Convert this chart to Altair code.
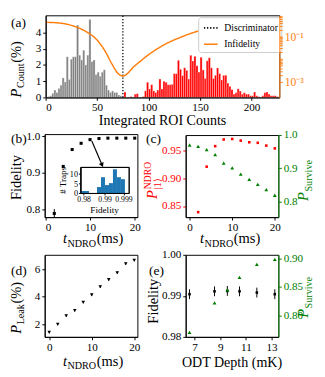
import altair as alt
import pandas as pd

FONT = "Liberation Serif"
W, H = 317, 369
RED, GREEN, ORANGE, GRAY, BLUE = "#ff0000", "#008000", "#ff7f0e", "#808080", "#1f77b4"

# ---------------- data ----------------
BIN_W = 2
gray_edges = list(range(0, 76, 2))
gray_pct = [0, 0.05, 0.1, 0.25, 0.45, 0.3, 0.55, 0.75, 1.2, 0.95, 2.5, 1.1, 2.35, 2.5, 2.5,
            4.45, 2.6, 2.3, 2.9, 2.0, 2.6, 4.8, 2.2, 2.3, 1.4, 1.55, 1.3, 1.55, 1.7, 0.75,
            0.45, 0.3, 0.4, 0.3, 0.3, 0.15, 0.1, 0.05]
red_edges = list(range(76, 226, 2))
red_pct = [0.33, 0, 0, 0.05, 0, 0.2, 0.23, 0, 0, 0.05, 0.4, 0.93, 0.52, 0.78, 0.4, 0.3, 0.45,
           1.13, 0.52, 0.99, 0.93, 0.78, 0.78, 0.8, 1.46, 1.46, 2.28, 1.73, 1.34, 1.82, 1.66,
           1.13, 2.59, 2.24, 2.53, 1.95, 1.56, 2.47, 1.69, 1.16, 2.25, 2.44, 1.82, 1.16, 1.36,
           1.81, 1.46, 1.07, 1.36, 1.36, 0.88, 0.68, 0.48, 0.2, 0.29, 0.53, 0.39, 0.2, 0.29,
           0.2, 0.2, 0.1, 0.1, 0.33, 0.1, 0.05, 0, 0.1, 0.29, 0.33, 0.2, 0.1, 0.1, 0.1, 0.05]
discriminator = [75]
infid_counts = [0, 15, 28, 40, 49, 58, 64.5, 70.5, 75, 86.5, 102, 117, 133, 148, 170, 195, 226]
infid_vals = [0.427, 0.389, 0.282, 0.158, 0.0776, 0.0214, 0.0059, 0.00224, 0.00178, 0.0050,
              0.0182, 0.0479, 0.100, 0.174, 0.28, 0.38, 0.50]

b_t = [2, 4, 6, 8, 10, 12, 14, 16, 18, 20]
b_fid = [0.79, 0.918, 0.964, 0.981, 0.991, 0.994, 0.995, 0.995, 0.995, 0.995]
b_err = [0.012, 0.003, 0.002, 0.002, 0.001, 0.001, 0.001, 0.001, 0.001, 0.001]

inset_edges = [0.97877, 0.98067, 0.98257, 0.98447, 0.98637, 0.98827, 0.99017, 0.99207,
               0.99397, 0.99587, 0.99777]
inset_traps = [1, 1, 0, 0, 3, 8, 4, 5, 12, 8, 7]
INSET_W = 0.0019

c_t_red = [2, 4, 6, 8, 10, 12, 14, 16, 18, 20]
c_pndro = [0.839, 0.921, 0.958, 0.970, 0.971, 0.968, 0.965, 0.964, 0.959, 0.954]
c_t_green = [0, 2, 4, 6, 8, 10, 12, 14, 16, 18, 20]
c_psurv = [0.970, 0.966, 0.956, 0.941, 0.915, 0.901, 0.882, 0.866, 0.851, 0.835, 0.818]

d_t = [0, 2, 4, 6, 8, 10, 12, 14, 16, 18, 20]
d_leak = [1.42, 2.0, 2.62, 3.0, 3.6, 4.14, 4.73, 5.25, 5.75, 6.41, 6.66]
d_err = [0.08] * 11

e_depth = [6.6, 8.55, 9.55, 10.5, 11.85, 13.25]
e_fid = [0.9904, 0.9911, 0.9912, 0.9911, 0.9908, 0.9904]
e_ferr = [0.0012, 0.0012, 0.0012, 0.0012, 0.0012, 0.0012]
e_psurv = [0.770, 0.822, 0.845, 0.867, 0.890, 0.899]


# ---------------- layout helpers ----------------
def RX(x):
    return round((x - 3) * 0.985)


def RY(y):
    return round((y - 1) * 0.98)


BOX_A = (RX(39.3), RX(285.5), RY(1.7), RY(88.3))
BOX_B = (RX(38.5), RX(136), RY(128), RY(215))
BOX_BI = (RX(76.5), RX(126.7), RY(162.7), RY(190))
BOX_C = (RX(186.5), RX(284.5), RY(128.5), RY(215))
BOX_D = (RX(38.5), RX(136), RY(255), RY(341.7))
BOX_E = (RX(186.5), RX(284.5), RY(255), RY(341.7))


def sx(dom, box, **kw):
    return alt.Scale(domain=dom, range=[box[0], box[1]], nice=False, zero=False, **kw)


def sy(dom, box, **kw):
    return alt.Scale(domain=dom, range=[box[3], box[2]], nice=False, zero=False, **kw)


def ax(orient, box, values, fmt=None, size=11.5, color="black", **kw):
    off = {"bottom": box[3] - H, "left": -box[0], "right": box[1] - W}[orient]
    a = dict(orient=orient, offset=off, values=values, title=None, labelFontSize=size,
             labelColor=color, tickColor=color, domainColor=color, zindex=1)
    if fmt:
        a["format"] = fmt
    a.update(kw)
    return alt.Axis(**a)


one = pd.DataFrame({"k": [0]})


def frame(box, fill=None, color="black"):
    kw = dict(stroke=color, strokeWidth=1)
    if fill:
        kw["fill"] = fill
    else:
        kw["fillOpacity"] = 0
    return alt.Chart(one).mark_rect(**kw).encode(
        x=alt.value(box[0] + 0.5), x2=alt.value(box[1] + 0.5),
        y=alt.value(box[2] + 0.5), y2=alt.value(box[3] + 0.5))


def txt(s, x, y, size=15, color="black", angle=0, italic=False, dx=0, dy=0, align="left"):
    kw = dict(text=s, font=FONT, fontSize=size, color=color, angle=angle, align=align,
              baseline="alphabetic", dx=dx, dy=dy)
    if italic:
        kw["fontStyle"] = "italic"
    return alt.Chart(one).mark_text(**kw).encode(x=alt.value(x), y=alt.value(y))


WID = {' ': 250, '(': 333, ')': 333, '%': 833, '#': 500, 'C': 667, 'D': 722, 'L': 611,
       'N': 722, 'O': 722, 'P': 611, 'R': 667, 'S': 556, 'T': 611, 'K': 722, 'a': 444,
       'e': 444, 'i': 278, 'k': 500, 'm': 778, 'n': 500, 'o': 500, 'p': 500, 'r': 333,
       's': 389, 't': 278, 'u': 500, 'v': 500, 'h': 500, '|': 200, '1': 500, '⟩': 333}


def tw(s, size):
    return sum(WID.get(c, 500) for c in s) * size / 1000.0


def comp(parts, x, y, angle=0, color="black"):
    # parts: (text, size, italic, dy)
    total = sum(tw(p[0], p[1]) for p in parts) + 0.5 * (len(parts) - 1)
    pos = -total / 2
    out = []
    for (s, size, it, dy) in parts:
        out.append(txt(s, x, y, size, color, angle, it, dx=pos, dy=dy))
        pos += tw(s, size) + 0.5
    return out


def tndro(cx, by):
    return comp([("t", 15, True, 0), ("NDRO", 10.5, False, 3.5), (" (ms)", 15, False, 0)],
                RX(cx), RY(by))


# ---------------- panel (a) ----------------
xA = sx([0, 227], BOX_A)
yA = sy([0, 5.05], BOX_A)
xA2 = sx([0, 227], BOX_A)
yAlog = sy([10 ** -3.7, 10 ** -0.06], BOX_A, type="log")

df_gray = pd.DataFrame({"lo": gray_edges, "hi": [e + BIN_W for e in gray_edges], "v": gray_pct})
df_red = pd.DataFrame({"lo": red_edges, "hi": [e + BIN_W for e in red_edges], "v": red_pct})
df_disc = pd.DataFrame({"c": discriminator, "y0": [0], "y1": [5.05], "series": ["Discriminator"]})
df_inf = pd.DataFrame({"c": infid_counts, "f": infid_vals, "series": ["Infidelity"] * len(infid_counts)})

series_dom = ["Discriminator", "Infidelity"]
colS = alt.Scale(domain=series_dom, range=["black", ORANGE])
dashS = alt.Scale(domain=series_dom, range=[[1.3, 1.9], [1, 0]])
leg = alt.Legend(orient="none", legendX=RX(200), legendY=RY(4), title=None, symbolType="stroke",
                 symbolSize=200, symbolStrokeWidth=1.6, labelFont=FONT, labelFontSize=10,
                 fillColor="white", strokeColor="#cccccc", padding=3, cornerRadius=3,
                 rowPadding=4, labelOffset=6, symbolOffset=2)

gray_bars = alt.Chart(df_gray).mark_rect(color=GRAY, stroke="white", strokeWidth=0.3).encode(
    x=alt.X("lo:Q", scale=xA, axis=ax("bottom", BOX_A, list(range(0, 201, 25)), "d")),
    x2="hi:Q",
    y=alt.Y("v:Q", scale=yA, axis=ax("left", BOX_A, [0, 1, 2, 3, 4], "d")),
    y2=alt.datum(0))
red_bars = alt.Chart(df_red).mark_rect(color=RED, stroke="white", strokeWidth=0.3).encode(
    x=alt.X("lo:Q", scale=xA), x2="hi:Q", y=alt.Y("v:Q", scale=yA), y2=alt.datum(0))
disc = alt.Chart(df_disc).mark_rule(strokeWidth=1.3).encode(
    x=alt.X("c:Q", scale=xA), y=alt.Y("y0:Q", scale=yA), y2="y1:Q",
    color=alt.Color("series:N", scale=colS, legend=leg),
    strokeDash=alt.StrokeDash("series:N", scale=dashS, legend=leg))
A_left = alt.layer(frame(BOX_A), gray_bars, red_bars, disc)

inf_line = alt.Chart(df_inf).mark_line(strokeWidth=1.5, interpolate="monotone").encode(
    x=alt.X("c:Q", scale=xA2, axis=None),
    y=alt.Y("f:Q", scale=yAlog, axis=ax(
        "right", BOX_A, [0.001, 0.002, 0.003, 0.004, 0.005, 0.006, 0.007, 0.008, 0.009, 0.01,
                         0.02, 0.03, 0.04, 0.05, 0.06, 0.07, 0.08, 0.09, 0.1, 0.2, 0.3, 0.4,
                         0.5, 0.6, 0.7, 0.8],
        color=ORANGE, size=12,
        labelExpr="datum.value == 0.1 ? '10⁻¹' : (datum.value == 0.001 ? '10⁻³' : '')")),
    color=alt.Color("series:N", scale=colS, legend=leg),
    strokeDash=alt.StrokeDash("series:N", scale=dashS, legend=leg))
A_right = alt.layer(inf_line)

# ---------------- panel (b) ----------------
xB = sx([-0.15, 20.6], BOX_B)
yB = sy([0.78, 1.006], BOX_B)
df_b = pd.DataFrame({"t": b_t, "f": b_fid, "lo": [f - e for f, e in zip(b_fid, b_err)],
                     "hi": [f + e for f, e in zip(b_fid, b_err)]})
b_pts = alt.Chart(df_b).mark_square(size=10, color="black", opacity=1).encode(
    x=alt.X("t:Q", scale=xB, axis=ax("bottom", BOX_B, [0, 10, 20], "d")),
    y=alt.Y("f:Q", scale=yB, axis=ax("left", BOX_B, [0.8, 0.9, 1.0], ".1f")))
b_err_r = alt.Chart(df_b).mark_rule(color="black", strokeWidth=1).encode(
    x=alt.X("t:Q", scale=xB), y=alt.Y("lo:Q", scale=yB), y2="hi:Q")
df_arrow = pd.DataFrame({"x": [10.4], "y": [0.987], "x2": [12.7], "y2": [0.922]})
arrow_line = alt.Chart(df_arrow).mark_rule(color="black", strokeWidth=1.2).encode(
    x=alt.X("x:Q", scale=xB), y=alt.Y("y:Q", scale=yB), x2="x2:Q", y2="y2:Q")
arrow_head = alt.Chart(df_arrow).mark_point(shape="triangle-down", filled=True, size=28,
                                            color="black", opacity=1, angle=336).encode(
    x=alt.X("x2:Q", scale=xB), y=alt.Y("y2:Q", scale=yB))
B_main = alt.layer(frame(BOX_B), b_err_r, b_pts, arrow_line, arrow_head)

xI = sx([0.97848, 1.00147], BOX_BI)
yI = sy([0, 13.2], BOX_BI)
df_in = pd.DataFrame({"lo": inset_edges, "hi": [e + INSET_W for e in inset_edges], "n": inset_traps})
in_bars = alt.Chart(df_in).mark_rect(color=BLUE).encode(
    x=alt.X("lo:Q", scale=xI, axis=ax("bottom", BOX_BI, [0.98, 0.99, 0.999], size=8,
                                      tickSize=2, labelPadding=1,
                                      labelExpr="datum.value == 0.999 ? '0.999' : format(datum.value, '.2f')")),
    x2="hi:Q",
    y=alt.Y("n:Q", scale=yI, axis=ax("left", BOX_BI, [0, 5, 10], "d", size=8.5, tickSize=2,
                                     labelPadding=1)),
    y2=alt.datum(0))
B_inset = alt.layer(frame(BOX_BI, fill="white"), in_bars, frame(BOX_BI))

# ---------------- panel (c) ----------------
xC = sx([-0.93, 20.84], BOX_C)
xC2 = sx([-0.93, 20.84], BOX_C)
yCl = sy([0.830, 0.978], BOX_C)
yCr = sy([0.752, 1.0], BOX_C)
df_cr = pd.DataFrame({"t": c_t_red, "p": c_pndro})
df_cg = pd.DataFrame({"t": c_t_green, "p": c_psurv})
c_red = alt.Chart(df_cr).mark_square(size=7, color=RED, opacity=1).encode(
    x=alt.X("t:Q", scale=xC, axis=ax("bottom", BOX_C, [0, 10, 20], "d")),
    y=alt.Y("p:Q", scale=yCl, axis=ax("left", BOX_C, [0.85, 0.90, 0.95], ".2f", color=RED,
                                      domainColor="black")))
C_left = alt.layer(frame(BOX_C), c_red)
c_green = alt.Chart(df_cg).mark_point(shape="triangle-up", filled=True, size=16, color=GREEN,
                                      opacity=1).encode(
    x=alt.X("t:Q", scale=xC2, axis=None),
    y=alt.Y("p:Q", scale=yCr, axis=ax("right", BOX_C, [0.8, 0.9, 1.0], ".1f", color=GREEN)))
C_right = alt.layer(c_green)

# ---------------- panel (d) ----------------
xD = sx([-1.07, 20.74], BOX_D)
yD = sy([1.08, 7.06], BOX_D)
df_d = pd.DataFrame({"t": d_t, "p": d_leak, "lo": [p - e for p, e in zip(d_leak, d_err)],
                     "hi": [p + e for p, e in zip(d_leak, d_err)]})
d_err_r = alt.Chart(df_d).mark_rule(color="black", strokeWidth=1).encode(
    x=alt.X("t:Q", scale=xD), y=alt.Y("lo:Q", scale=yD), y2="hi:Q")
d_pts = alt.Chart(df_d).mark_point(shape="triangle-down", filled=True, size=14, color="black",
                                   opacity=1).encode(
    x=alt.X("t:Q", scale=xD, axis=ax("bottom", BOX_D, [0, 10, 20], "d")),
    y=alt.Y("p:Q", scale=yD, axis=ax("left", BOX_D, [2, 4, 6], "d")))
D_layer = alt.layer(frame(BOX_D), d_err_r, d_pts)

# ---------------- panel (e) ----------------
xE = sx([6.30, 13.53], BOX_E)
xE2 = sx([6.30, 13.53], BOX_E)
yEl = sy([0.98, 1.0], BOX_E)
yEr = sy([0.762, 0.907], BOX_E)
df_e = pd.DataFrame({"d": e_depth, "f": e_fid, "lo": [f - e for f, e in zip(e_fid, e_ferr)],
                     "hi": [f + e for f, e in zip(e_fid, e_ferr)], "s": e_psurv})
e_err_r = alt.Chart(df_e).mark_rule(color="black", strokeWidth=1).encode(
    x=alt.X("d:Q", scale=xE), y=alt.Y("lo:Q", scale=yEl), y2="hi:Q")
e_pts = alt.Chart(df_e).mark_square(size=7, color="black", opacity=1).encode(
    x=alt.X("d:Q", scale=xE, axis=ax("bottom", BOX_E, [7, 9, 11, 13], "d")),
    y=alt.Y("f:Q", scale=yEl, axis=ax("left", BOX_E, [0.98, 0.99, 1.0], ".2f")))
E_left = alt.layer(frame(BOX_E), e_err_r, e_pts)
e_green = alt.Chart(df_e).mark_point(shape="triangle-up", filled=True, size=16, color=GREEN,
                                     opacity=1).encode(
    x=alt.X("d:Q", scale=xE2, axis=None),
    y=alt.Y("s:Q", scale=yEr, axis=ax("right", BOX_E, [0.80, 0.85, 0.90], ".2f", color=GREEN)))
E_right = alt.layer(e_green)

# ---------------- texts ----------------
texts = []
texts += [txt("(a)", RX(3), RY(14), 14), txt("(b)", RX(3), RY(137), 14),
          txt("(c)", RX(145), RY(137), 14), txt("(d)", RX(3), RY(276), 14),
          txt("(e)", RX(148), RY(276), 14)]
texts += comp([("P", 15, True, 0), ("Count", 10.5, False, 3.5), (" (%)", 15, False, 0)],
              RX(13), RY(57), 270)
texts += [txt("Integrated ROI Counts", RX(162), RY(118.5), 14.5, align="center")]
texts += [txt("Fidelity", RX(13), RY(173), 15, angle=270, align="center")]
texts += tndro(91, 243)
texts += [txt("# Traps", RX(61), RY(176), 9.5, angle=270, align="center"),
          txt("Fidelity", RX(101), RY(211), 9.5, align="center")]
# P^NDRO_|1>  (red, rotated)
wP = tw("P", 15)
wN = tw("NDRO", 10)
cx_c, cy_c = RX(156), RY(176)
start = -(wP + wN + 1) / 2
texts += [txt("P", cx_c, cy_c, 15, RED, 270, True, dx=start),
          txt("NDRO", cx_c, cy_c, 10, RED, 270, False, dx=start + wP + 1, dy=-6),
          txt("|1⟩", cx_c, cy_c, 10, RED, 270, False, dx=start + wP + 1, dy=4)]
texts += comp([("P", 15, True, 0), ("Survive", 10.5, False, 3.5)], RX(316), RY(176), 270, GREEN)
texts += tndro(235, 243)
texts += comp([("P", 15, True, 0), ("Leak", 10.5, False, 3.5), (" (%)", 15, False, 0)],
              RX(13), RY(309), 270)
texts += tndro(91, 372.5)
texts += [txt("Fidelity", RX(157), RY(304), 15, angle=270, align="center")]
texts += comp([("P", 15, True, 0), ("Survive", 10.5, False, 3.5)], RX(316), RY(300), 270, GREEN)
texts += [txt("ODT Depth (mK)", RX(235), RY(373), 14.5, align="center")]

chart = alt.layer(A_left, A_right, B_main, B_inset, C_left, C_right, D_layer, E_left, E_right,
                  *texts).resolve_scale(x="independent", y="independent").properties(
    width=W, height=H, padding=0, background="white"
).configure_view(stroke=None).configure_axis(
    grid=False, labelFont=FONT, labelFontSize=11.5, tickSize=3, labelPadding=2,
    domainWidth=1, tickWidth=1
)

chart.save("out.html", embed_options={"renderer": "svg", "actions": False})
